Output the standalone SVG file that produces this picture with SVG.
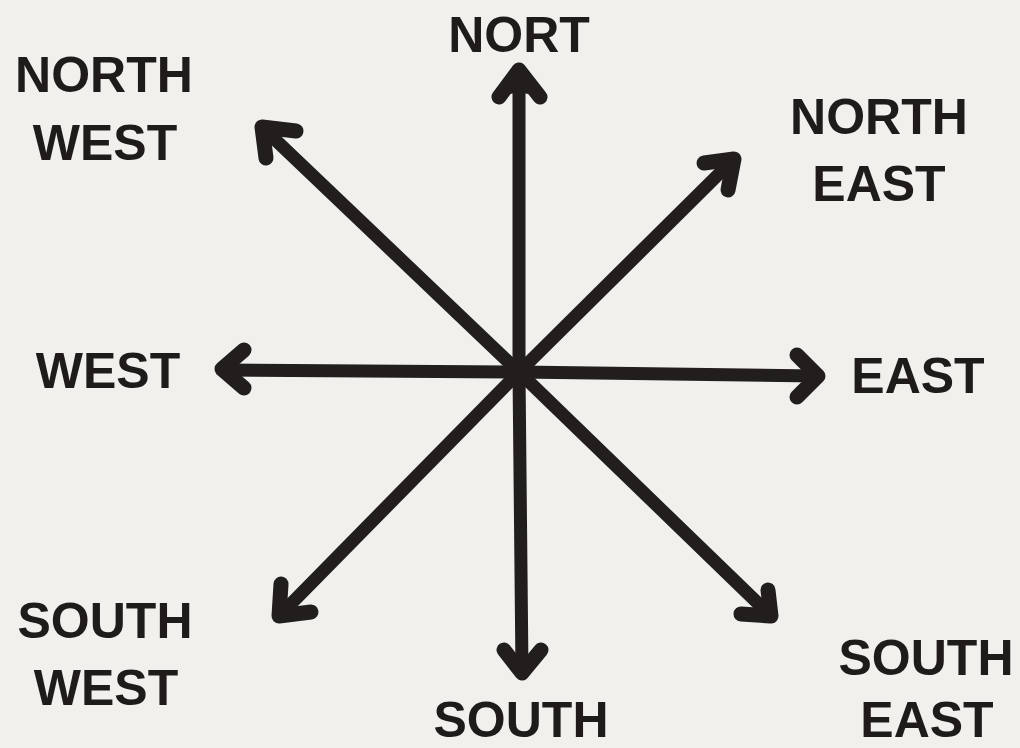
<svg xmlns="http://www.w3.org/2000/svg" width="1020" height="748" viewBox="0 0 1020 748">
<style>
.ln{fill:none;stroke:#221e1e;stroke-width:13;stroke-linecap:round;stroke-linejoin:round}
.hd{fill:none;stroke:#221e1e;stroke-width:15;stroke-linecap:round;stroke-linejoin:round}
.t{font-family:"Liberation Sans",Arial,sans-serif;font-weight:bold;font-size:50px;fill:#1f1b1b;text-anchor:middle}
</style>
<rect width="1020" height="748" fill="#f1f0ec"/>
<g id="connectors">
<line class="ln" x1="519" y1="372" x2="519" y2="72"/>
<polygon points="519,72 501,96 519,92 537,96" fill="#221e1e"/>
<polyline class="hd" points="499,97 519,70 540,97"/>
<line class="ln" x1="519" y1="372" x2="522" y2="671"/>
<polyline class="hd" points="504,650 522,673 541,650"/>
<line class="ln" x1="519" y1="372" x2="224" y2="370"/>
<polyline class="hd" points="244,350 222,369 244,388"/>
<line class="ln" x1="519" y1="372" x2="816" y2="376"/>
<polyline class="hd" points="797,355 818,376 797,397"/>
<line class="ln" x1="519" y1="372" x2="264" y2="129"/>
<polyline class="hd" points="296,131 262,127 266,158"/>
<line class="ln" x1="519" y1="372" x2="732" y2="161"/>
<polyline class="hd" points="704,163 734,159 728,190"/>
<line class="ln" x1="519" y1="372" x2="281" y2="614"/>
<polyline class="hd" points="281,584 279,616 311,612"/>
<line class="ln" x1="519" y1="372" x2="769" y2="614"/>
<polyline class="hd" points="768,590 771,616 741,614"/>
<circle cx="519" cy="372" r="10" fill="#221e1e"/>
</g>
<g id="n"><text class="t" x="519" y="52">NORT</text></g>
<g id="nw"><text class="t" x="104" y="92">NORTH</text><text class="t" x="105" y="160">WEST</text></g>
<g id="ne"><text class="t" x="879" y="134">NORTH</text><text class="t" x="879" y="201">EAST</text></g>
<g id="w"><text class="t" x="108" y="388">WEST</text></g>
<g id="e"><text class="t" x="918" y="393">EAST</text></g>
<g id="sw"><text class="t" x="105" y="638">SOUTH</text><text class="t" x="106" y="705">WEST</text></g>
<g id="s"><text class="t" x="521" y="737">SOUTH</text></g>
<g id="se"><text class="t" x="926" y="675">SOUTH</text><text class="t" x="927" y="737">EAST</text></g>
</svg>
